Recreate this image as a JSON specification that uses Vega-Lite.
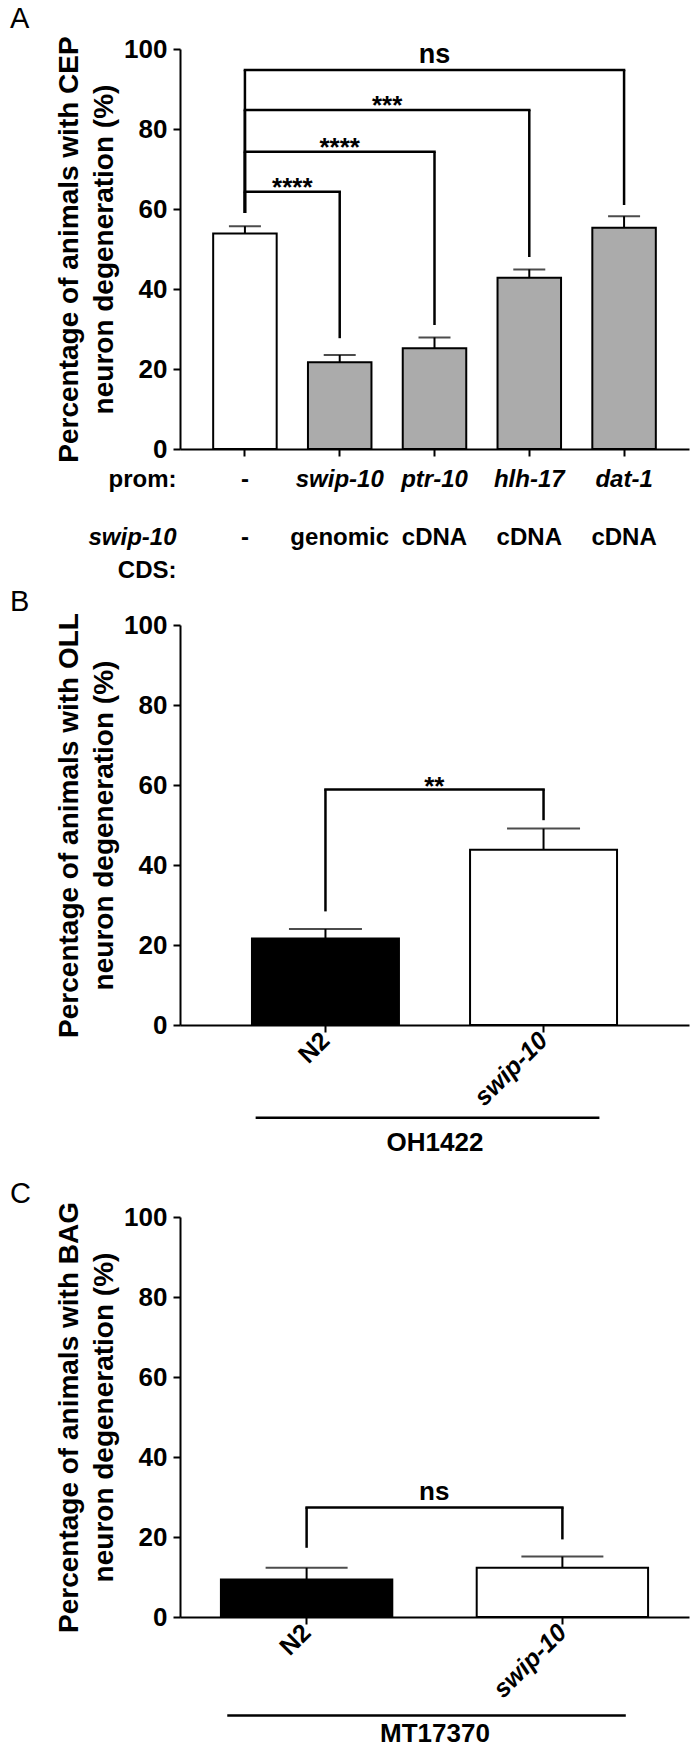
{
  "$schema": "https://vega.github.io/schema/vega-lite/v6.json",
  "padding": {"left": 10, "top": 4, "right": 5, "bottom": 0},
  "background": "white",
  "spacing": 6,
  "resolve": {"scale": {"fill": "independent"}},
  "config": {
    "view": {"stroke": null},
    "font": "Liberation Sans",
    "axis": {"grid": false, "domainColor": "black", "domainWidth": 2, "tickColor": "black", "tickWidth": 2, "tickSize": 7,
      "labelColor": "black", "labelFont": "Liberation Sans", "labelFontWeight": "bold",
      "titleColor": "black", "titleFont": "Liberation Sans", "titleFontWeight": "bold"},
    "title": {"font": "Liberation Sans", "fontWeight": "normal", "fontSize": 29, "color": "black", "anchor": "start", "frame": "group"}
  },
  "datasets": {
    "barsA": [
      {"g": "-", "kind": "control", "lo": 53.9, "hi": 55.7},
      {"g": "swip-10", "kind": "rescue", "lo": 21.7, "hi": 23.5},
      {"g": "ptr-10", "kind": "rescue", "lo": 25.2, "hi": 27.9},
      {"g": "hlh-17", "kind": "rescue", "lo": 42.8, "hi": 44.9},
      {"g": "dat-1", "kind": "rescue", "lo": 55.3, "hi": 58.2}
    ],
    "brA": [
      {"from": "-", "to": "swip-10", "h": 64.3, "lb": 59, "rb": 27.7, "label": "****", "mid": "-", "pos": "half"},
      {"from": "-", "to": "ptr-10", "h": 74.3, "lb": 59, "rb": 31, "label": "****", "mid": "swip-10", "pos": "center"},
      {"from": "-", "to": "hlh-17", "h": 84.75, "lb": 59, "rb": 48, "label": "***", "mid": "swip-10", "pos": "half"},
      {"from": "-", "to": "dat-1", "h": 94.75, "lb": 59, "rb": 61, "label": "ns", "mid": "ptr-10", "pos": "center"}
    ],
    "barsB": [
      {"g": "N2", "lo": 21.6, "hi": 24.0},
      {"g": "swip-10", "lo": 43.8, "hi": 49.1}
    ],
    "brB": [{"from": "N2", "to": "swip-10", "h": 58.9, "lb": 28.4, "rb": 51.2, "label": "**"}],
    "grpB": [{"a": "N2", "b": "swip-10", "y": -23.2}],
    "barsC": [
      {"g": "N2", "lo": 9.4, "hi": 12.3},
      {"g": "swip-10", "lo": 12.3, "hi": 15.1}
    ],
    "brC": [{"from": "N2", "to": "swip-10", "h": 27.4, "lb": 17.3, "rb": 19.4, "label": "ns"}],
    "grpC": [{"a": "N2", "b": "swip-10", "y": -24.6}]
  },
  "vconcat": [
    {
      "width": 509, "height": 400,
      "title": {"text": "A", "dx": -170, "dy": 2},
      "resolve": {"axis": {"x": "independent"}},
      "layer": [
        {
          "data": {"name": "barsA"},
          "mark": {"type": "bar", "stroke": "black", "strokeWidth": 2},
          "encoding": {
            "x": {"field": "g", "type": "nominal",
              "scale": {"domain": ["-", "swip-10", "ptr-10", "hlh-17", "dat-1"], "paddingInner": 0.33, "paddingOuter": 0.35},
              "axis": {"orient": "bottom", "labelAngle": 0, "labelFontSize": 24, "labelBaseline": "alphabetic", "labelPadding": 30, "labelOverlap": false,
                "labelFontStyle": {"condition": {"test": "datum.value == '-'", "value": "normal"}, "value": "italic"},
                "title": "prom:", "titleFontSize": 24, "titleAngle": 0, "titleAlign": "right", "titleBaseline": "alphabetic", "titleX": -4, "titleY": 37}},
            "y": {"field": "lo", "type": "quantitative", "scale": {"domain": [0, 100], "nice": false},
              "axis": {"values": [0, 20, 40, 60, 80, 100], "labelFontSize": 26, "labelPadding": 6,
                "title": ["Percentage of animals with CEP", "neuron degeneration (%)"], "titleFontSize": 28, "titleLineHeight": 35, "titlePadding": 5}},
            "fill": {"field": "kind", "type": "nominal", "scale": {"domain": ["control", "rescue"], "range": ["white", "#ababab"]}, "legend": null}
          }
        },
        {
          "data": {"name": "barsA"},
          "mark": {"type": "rule", "color": "black", "strokeWidth": 2},
          "encoding": {
            "x": {"field": "g", "type": "nominal",
              "axis": {"orient": "bottom", "labelAngle": 0, "labelFontSize": 24, "labelBaseline": "alphabetic", "labelPadding": 95, "labelOverlap": false, "domain": false, "ticks": false, "tickSize": 0,
                "labelExpr": "datum.value == '-' ? '-' : datum.value == 'swip-10' ? 'genomic' : 'cDNA'",
                "title": "swip-10", "titleFontStyle": "italic", "titleFontSize": 24, "titleAngle": 0, "titleAlign": "right", "titleBaseline": "alphabetic", "titleX": -4, "titleY": 95}},
            "y": {"field": "lo", "type": "quantitative"},
            "y2": {"field": "hi"}
          }
        },
        {
          "data": {"name": "barsA"},
          "mark": {"type": "tick", "color": "black", "thickness": 2, "size": 32},
          "encoding": {
            "x": {"field": "g", "type": "nominal",
              "axis": {"orient": "bottom", "labels": false, "domain": false, "ticks": false, "tickSize": 0,
                "title": "CDS:", "titleFontSize": 24, "titleAngle": 0, "titleAlign": "right", "titleBaseline": "alphabetic", "titleX": -4, "titleY": 128}},
            "y": {"field": "hi", "type": "quantitative"}
          }
        },
        {
          "data": {"name": "brA"},
          "mark": {"type": "rule", "color": "black", "strokeWidth": 2.5, "strokeCap": "square"},
          "encoding": {
            "x": {"field": "from", "type": "nominal", "axis": null},
            "x2": {"field": "to"},
            "y": {"field": "h", "type": "quantitative"}
          }
        },
        {
          "data": {"name": "brA"},
          "mark": {"type": "rule", "color": "black", "strokeWidth": 2.5},
          "encoding": {
            "x": {"field": "to", "type": "nominal", "axis": null},
            "y": {"field": "rb", "type": "quantitative"},
            "y2": {"field": "h"}
          }
        },
        {
          "data": {"name": "brA"},
          "mark": {"type": "rule", "color": "black", "strokeWidth": 2.5},
          "encoding": {
            "x": {"field": "from", "type": "nominal", "axis": null},
            "y": {"field": "lb", "type": "quantitative"},
            "y2": {"field": "h"}
          }
        },
        {
          "data": {"name": "brA"},
          "transform": [{"filter": "datum.pos == 'half'"}],
          "mark": {"type": "text", "font": "Liberation Sans", "fontWeight": "bold", "fontSize": 26, "color": "black", "baseline": "alphabetic", "dy": 4},
          "encoding": {
            "x": {"field": "mid", "type": "nominal", "bandPosition": 1.246, "axis": null},
            "y": {"field": "h", "type": "quantitative"},
            "text": {"field": "label"}
          }
        },
        {
          "data": {"name": "brA"},
          "transform": [{"filter": "datum.pos == 'center' && datum.label != 'ns'"}],
          "mark": {"type": "text", "font": "Liberation Sans", "fontWeight": "bold", "fontSize": 26, "color": "black", "baseline": "alphabetic", "dy": 4},
          "encoding": {
            "x": {"field": "mid", "type": "nominal", "axis": null},
            "y": {"field": "h", "type": "quantitative"},
            "text": {"field": "label"}
          }
        },
        {
          "data": {"name": "brA"},
          "transform": [{"filter": "datum.label == 'ns'"}],
          "mark": {"type": "text", "font": "Liberation Sans", "fontWeight": "bold", "fontSize": 27, "color": "black", "baseline": "alphabetic", "dy": -7},
          "encoding": {
            "x": {"field": "mid", "type": "nominal", "axis": null},
            "y": {"field": "h", "type": "quantitative"},
            "text": {"field": "label"}
          }
        }
      ]
    },
    {
      "spacing": 24,
      "vconcat": [
        {
          "width": 509, "height": 400,
          "title": {"text": "B", "dx": -170, "dy": 9},
          "layer": [
            {
              "data": {"name": "barsB"},
              "mark": {"type": "bar", "stroke": "black", "strokeWidth": 2},
              "encoding": {
                "x": {"field": "g", "type": "nominal",
                  "scale": {"domain": ["N2", "swip-10"], "paddingInner": 0.326, "paddingOuter": 0.33},
                  "axis": {"labelAngle": -45, "labelAlign": "right", "labelBaseline": "middle", "labelFontSize": 25, "labelPadding": 4,
                    "labelFontStyle": {"condition": {"test": "datum.value == 'N2'", "value": "normal"}, "value": "italic"},
                    "title": "OH1422", "titleFontSize": 26, "titleBaseline": "alphabetic", "titleY": 125}},
                "y": {"field": "lo", "type": "quantitative", "scale": {"domain": [0, 100], "nice": false},
                  "axis": {"values": [0, 20, 40, 60, 80, 100], "labelFontSize": 26, "labelPadding": 6,
                    "title": ["Percentage of animals with OLL", "neuron degeneration (%)"], "titleFontSize": 28, "titleLineHeight": 35, "titlePadding": 5}},
                "fill": {"field": "g", "type": "nominal", "scale": {"domain": ["N2", "swip-10"], "range": ["black", "white"]}, "legend": null}
              }
            },
            {
              "data": {"name": "barsB"},
              "mark": {"type": "rule", "color": "black", "strokeWidth": 2},
              "encoding": {
                "x": {"field": "g", "type": "nominal"},
                "y": {"field": "lo", "type": "quantitative"},
                "y2": {"field": "hi"}
              }
            },
            {
              "data": {"name": "barsB"},
              "mark": {"type": "tick", "color": "black", "thickness": 2, "size": 73},
              "encoding": {
                "x": {"field": "g", "type": "nominal"},
                "y": {"field": "hi", "type": "quantitative"}
              }
            },
            {
              "data": {"name": "brB"},
              "mark": {"type": "rule", "color": "black", "strokeWidth": 2.5, "strokeCap": "square"},
              "encoding": {
                "x": {"field": "from", "type": "nominal"},
                "x2": {"field": "to"},
                "y": {"field": "h", "type": "quantitative"}
              }
            },
            {
              "data": {"name": "brB"},
              "mark": {"type": "rule", "color": "black", "strokeWidth": 2.5},
              "encoding": {
                "x": {"field": "to", "type": "nominal"},
                "y": {"field": "rb", "type": "quantitative"},
                "y2": {"field": "h"}
              }
            },
            {
              "data": {"name": "brB"},
              "mark": {"type": "rule", "color": "black", "strokeWidth": 2.5},
              "encoding": {
                "x": {"field": "from", "type": "nominal"},
                "y": {"field": "lb", "type": "quantitative"},
                "y2": {"field": "h"}
              }
            },
            {
              "data": {"name": "brB"},
              "mark": {"type": "text", "font": "Liberation Sans", "fontWeight": "bold", "fontSize": 26, "color": "black", "baseline": "alphabetic", "dy": 6},
              "encoding": {
                "x": {"field": "from", "type": "nominal", "bandPosition": 1.241},
                "y": {"field": "h", "type": "quantitative"},
                "text": {"field": "label"}
              }
            },
            {
              "data": {"name": "grpB"},
              "mark": {"type": "rule", "color": "black", "strokeWidth": 2.5},
              "encoding": {
                "x": {"field": "a", "type": "nominal", "bandPosition": 0.025},
                "x2": {"field": "b", "bandPosition": 0.88},
                "y": {"field": "y", "type": "quantitative"}
              }
            }
          ]
        },
        {
          "width": 509, "height": 400,
          "title": {"text": "C", "dx": -170, "dy": 11},
          "layer": [
            {
              "data": {"name": "barsC"},
              "mark": {"type": "bar", "stroke": "black", "strokeWidth": 2},
              "encoding": {
                "x": {"field": "g", "type": "nominal",
                  "scale": {"domain": ["N2", "swip-10"], "paddingInner": 0.33, "paddingOuter": 0.16},
                  "axis": {"labelAngle": -45, "labelAlign": "right", "labelBaseline": "middle", "labelFontSize": 25, "labelPadding": 4,
                    "labelFontStyle": {"condition": {"test": "datum.value == 'N2'", "value": "normal"}, "value": "italic"},
                    "title": "MT17370", "titleFontSize": 26, "titleBaseline": "alphabetic", "titleY": 124}},
                "y": {"field": "lo", "type": "quantitative", "scale": {"domain": [0, 100], "nice": false},
                  "axis": {"values": [0, 20, 40, 60, 80, 100], "labelFontSize": 26, "labelPadding": 6,
                    "title": ["Percentage of animals with BAG", "neuron degeneration (%)"], "titleFontSize": 28, "titleLineHeight": 35, "titlePadding": 5}},
                "fill": {"field": "g", "type": "nominal", "scale": {"domain": ["N2", "swip-10"], "range": ["black", "white"]}, "legend": null}
              }
            },
            {
              "data": {"name": "barsC"},
              "mark": {"type": "rule", "color": "black", "strokeWidth": 2},
              "encoding": {
                "x": {"field": "g", "type": "nominal"},
                "y": {"field": "lo", "type": "quantitative"},
                "y2": {"field": "hi"}
              }
            },
            {
              "data": {"name": "barsC"},
              "mark": {"type": "tick", "color": "black", "thickness": 2, "size": 82},
              "encoding": {
                "x": {"field": "g", "type": "nominal"},
                "y": {"field": "hi", "type": "quantitative"}
              }
            },
            {
              "data": {"name": "brC"},
              "mark": {"type": "rule", "color": "black", "strokeWidth": 2.5, "strokeCap": "square"},
              "encoding": {
                "x": {"field": "from", "type": "nominal"},
                "x2": {"field": "to"},
                "y": {"field": "h", "type": "quantitative"}
              }
            },
            {
              "data": {"name": "brC"},
              "mark": {"type": "rule", "color": "black", "strokeWidth": 2.5},
              "encoding": {
                "x": {"field": "to", "type": "nominal"},
                "y": {"field": "rb", "type": "quantitative"},
                "y2": {"field": "h"}
              }
            },
            {
              "data": {"name": "brC"},
              "mark": {"type": "rule", "color": "black", "strokeWidth": 2.5},
              "encoding": {
                "x": {"field": "from", "type": "nominal"},
                "y": {"field": "lb", "type": "quantitative"},
                "y2": {"field": "h"}
              }
            },
            {
              "data": {"name": "brC"},
              "mark": {"type": "text", "font": "Liberation Sans", "fontWeight": "bold", "fontSize": 26, "color": "black", "baseline": "alphabetic", "dy": -7},
              "encoding": {
                "x": {"field": "from", "type": "nominal", "bandPosition": 1.245},
                "y": {"field": "h", "type": "quantitative"},
                "text": {"field": "label"}
              }
            },
            {
              "data": {"name": "grpC"},
              "mark": {"type": "rule", "color": "black", "strokeWidth": 2.5},
              "encoding": {
                "x": {"field": "a", "type": "nominal", "bandPosition": 0.037},
                "x2": {"field": "b", "bandPosition": 0.87},
                "y": {"field": "y", "type": "quantitative"}
              }
            }
          ]
        }
      ]
    }
  ]
}
